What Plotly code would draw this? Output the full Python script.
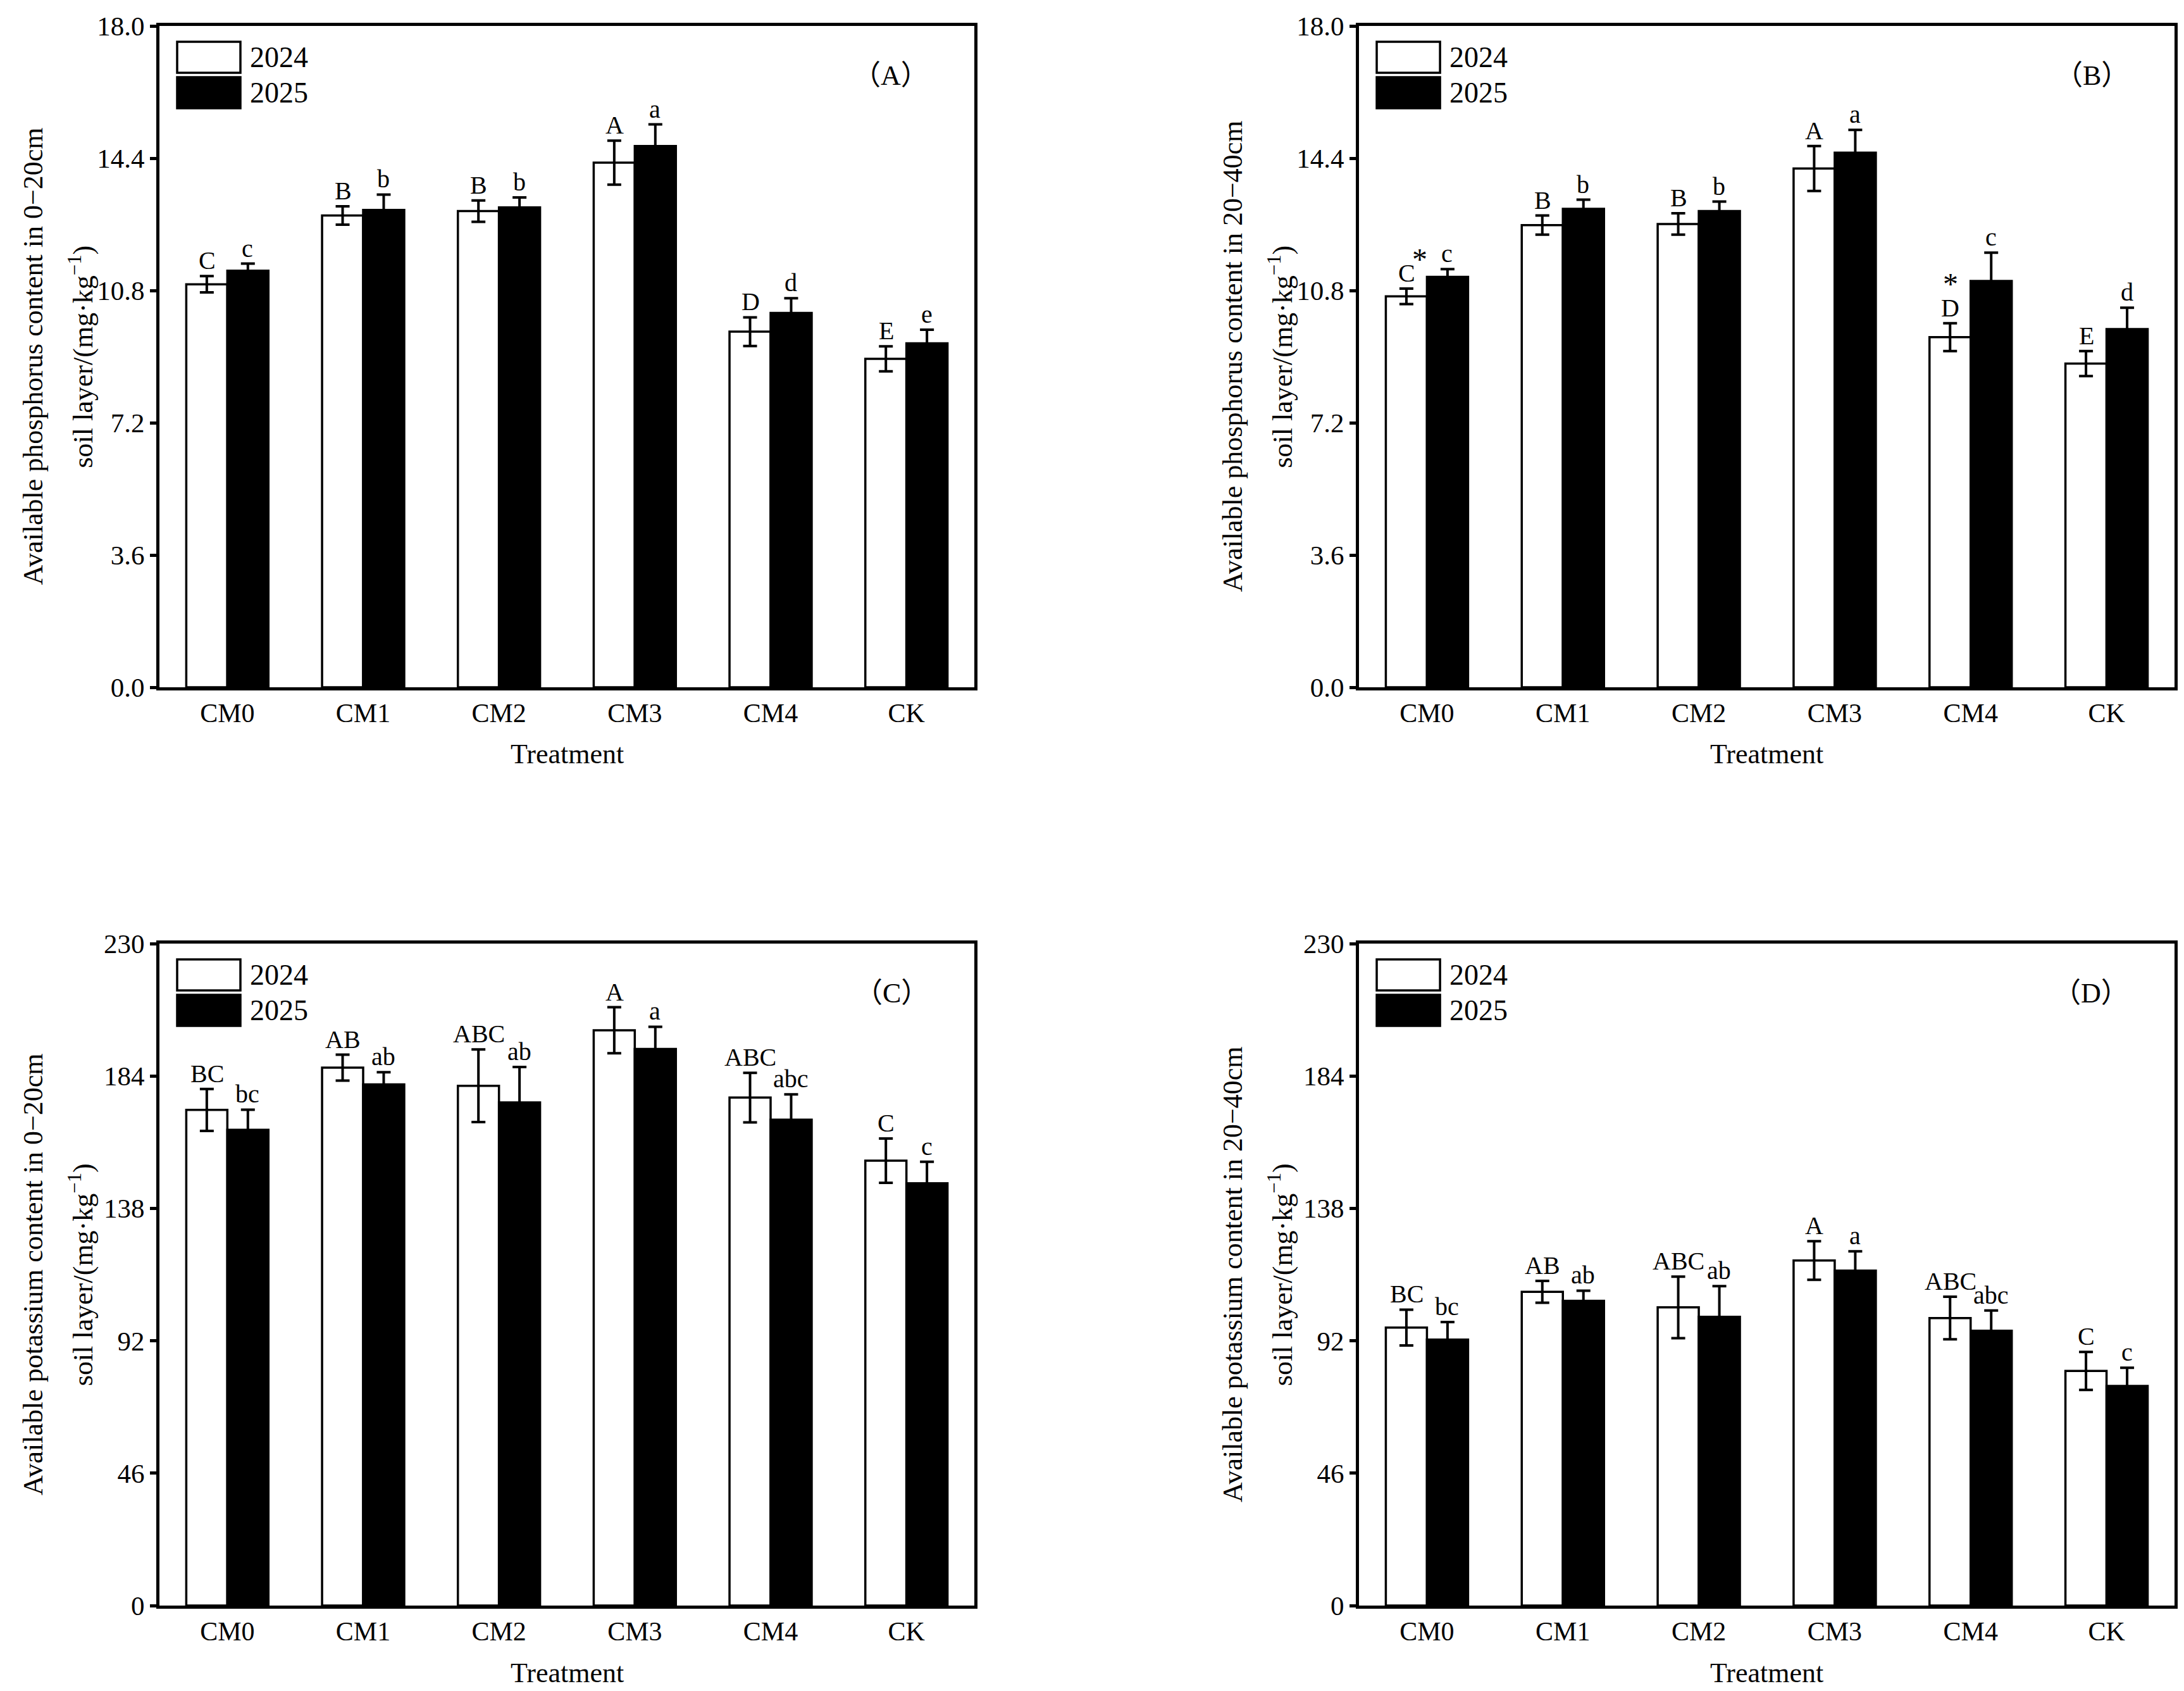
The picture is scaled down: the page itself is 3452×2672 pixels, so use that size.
import plotly.graph_objects as go
from plotly.subplots import make_subplots

treatments = ["CM0", "CM1", "CM2", "CM3", "CM4", "CK"]

# available phosphorus, 0-20cm
ap1_2024 = [10.97, 12.84, 12.96, 14.28, 9.68, 8.94]
ap1_2024_err = [0.22, 0.25, 0.29, 0.60, 0.39, 0.34]
ap1_2025 = [11.34, 12.99, 13.06, 14.73, 10.19, 9.36]
ap1_2025_err = [0.19, 0.42, 0.27, 0.59, 0.40, 0.37]
ap1_let_2024 = ["C", "B", "B", "A", "D", "E"]
ap1_let_2025 = ["c", "b", "b", "a", "d", "e"]

# available phosphorus, 20-40cm
ap2_2024 = [10.64, 12.58, 12.61, 14.12, 9.53, 8.81]
ap2_2024_err = [0.21, 0.26, 0.29, 0.61, 0.38, 0.34]
ap2_2025 = [11.17, 13.02, 12.96, 14.55, 11.06, 9.75]
ap2_2025_err = [0.21, 0.25, 0.26, 0.62, 0.77, 0.58]
ap2_let_2024 = ["C", "B", "B", "A", "D", "E"]
ap2_let_2025 = ["c", "b", "b", "a", "c", "d"]

# available potassium, 0-20cm
ak1_2024 = [172.2, 186.9, 180.6, 199.9, 176.5, 154.6]
ak1_2024_err = [7.3, 4.5, 12.6, 8.0, 8.6, 7.7]
ak1_2025 = [165.3, 181.1, 174.8, 193.4, 168.8, 146.7]
ak1_2025_err = [7.0, 4.2, 12.3, 7.7, 8.8, 7.5]
ak1_let_2024 = ["BC", "AB", "ABC", "A", "ABC", "C"]
ak1_let_2025 = ["bc", "ab", "ab", "a", "abc", "c"]

# available potassium, 20-40cm
ak2_2024 = [96.6, 109.0, 103.6, 119.9, 99.9, 81.5]
ak2_2024_err = [6.2, 3.8, 10.7, 6.7, 7.4, 6.6]
ak2_2025 = [92.4, 105.9, 100.3, 116.4, 95.5, 76.3]
ak2_2025_err = [6.1, 3.5, 10.7, 6.7, 7.0, 6.3]
ak2_let_2024 = ["BC", "AB", "ABC", "A", "ABC", "C"]
ak2_let_2025 = ["bc", "ab", "ab", "a", "abc", "c"]

p_ticks = [0, 3.6, 7.2, 10.8, 14.4, 18.0]
k_ticks = [0, 46, 92, 138, 184, 230]

panels = [
    dict(y24=ap1_2024, e24=ap1_2024_err, y25=ap1_2025, e25=ap1_2025_err, l24=ap1_let_2024, l25=ap1_let_2025,
         ticks=p_ticks, fmt=".1f", tag="（A）", t1="Available phosphorus content in 0−20cm"),
    dict(y24=ap2_2024, e24=ap2_2024_err, y25=ap2_2025, e25=ap2_2025_err, l24=ap2_let_2024, l25=ap2_let_2025,
         ticks=p_ticks, fmt=".1f", tag="（B）", t1="Available phosphorus content in 20−40cm"),
    dict(y24=ak1_2024, e24=ak1_2024_err, y25=ak1_2025, e25=ak1_2025_err, l24=ak1_let_2024, l25=ak1_let_2025,
         ticks=k_ticks, fmt="d", tag="（C）", t1="Available potassium content in 0−20cm"),
    dict(y24=ak2_2024, e24=ak2_2024_err, y25=ak2_2025, e25=ak2_2025_err, l24=ak2_let_2024, l25=ak2_let_2025,
         ticks=k_ticks, fmt="d", tag="（D）", t1="Available potassium content in 20−40cm"),
]

W, H = 3452, 2672
FONT = "Liberation Serif, Times New Roman, Noto Sans CJK SC, serif"
xdoms = [[244 / W, 1532 / W], [2140 / W, 3429 / W]]
ydoms = [[1 - 1078 / H, 1 - 33 / H], [1 - 2529 / H, 1 - 1483 / H]]
AW, AH = 1288, 1045  # axis box size in px

fig = make_subplots(rows=2, cols=2)

for n, p in enumerate(panels):
    row, col = n // 2 + 1, n % 2 + 1
    s = "" if n == 0 else str(n + 1)
    fig.add_trace(go.Bar(x=treatments, y=p["y24"], name="2024", showlegend=False,
                         marker=dict(color="white", line=dict(color="black", width=3.5)),
                         error_y=dict(type="data", array=p["e24"], color="black", thickness=4, width=11)),
                  row=row, col=col)
    fig.add_trace(go.Bar(x=treatments, y=p["y25"], name="2025", showlegend=False,
                         marker=dict(color="black", line=dict(color="black", width=3.5)),
                         error_y=dict(type="data", array=p["e25"], color="black", thickness=4, width=11)),
                  row=row, col=col)

    fig.layout["xaxis" + s].update(domain=xdoms[col - 1], automargin=False, showline=True, linewidth=5,
                                   linecolor="black", mirror=True, ticks="", showgrid=False, ticklabelstandoff=0,
                                   tickfont=dict(size=42, family=FONT, color="black"))
    fig.layout["yaxis" + s].update(domain=ydoms[row - 1], automargin=False, range=[0, p["ticks"][-1]],
                                   tickvals=p["ticks"], tickformat=p["fmt"], showline=True, linewidth=5,
                                   linecolor="black", mirror=True, ticks="outside", ticklen=10, tickwidth=5,
                                   tickcolor="black", showgrid=False, zeroline=False, ticklabelstandoff=0,
                                   tickfont=dict(size=43, family=FONT, color="black"))

    # significance letters
    for t, v, e, lab in zip(treatments, p["y24"], p["e24"], p["l24"]):
        fig.add_annotation(x=t, y=v + e, xref="x" + s, yref="y" + s, text=lab, showarrow=False,
                           yanchor="bottom", xshift=-32, yshift=0, font=dict(size=40, family=FONT, color="black"))
    for t, v, e, lab in zip(treatments, p["y25"], p["e25"], p["l25"]):
        fig.add_annotation(x=t, y=v + e, xref="x" + s, yref="y" + s, text=lab, showarrow=False,
                           yanchor="bottom", xshift=32, yshift=0, font=dict(size=40, family=FONT, color="black"))

    # legend boxes drawn by hand
    for k, (fill, label) in enumerate([("white", "2024"), ("black", "2025")]):
        top = 25 + k * 56
        fig.add_shape(type="rect", xref="x" + s + " domain", yref="y" + s + " domain",
                      x0=28 / AW, x1=128 / AW, y0=1 - (top + 49) / AH, y1=1 - top / AH,
                      fillcolor=fill, line=dict(color="black", width=3.5))
        fig.add_annotation(xref="x" + s + " domain", yref="y" + s + " domain", x=141 / AW,
                           y=1 - (top + 24.5) / AH, text=label, showarrow=False, xanchor="left",
                           yanchor="middle", font=dict(size=46, family=FONT, color="black"))

    fig.add_annotation(xref="x" + s + " domain", yref="y" + s + " domain", x=1 - 70 / AW, y=1 - 52 / AH,
                       text=p["tag"], showarrow=False, font=dict(size=44, family=FONT, color="black"))

    # axis titles
    fig.add_annotation(xref="x" + s + " domain", yref="y" + s + " domain", x=0.5, y=0, yshift=-106,
                       text="Treatment", showarrow=False, yanchor="middle",
                       font=dict(size=44, family=FONT, color="black"))
    fig.add_annotation(xref="x" + s + " domain", yref="y" + s + " domain", x=0, xshift=-200, y=0.5,
                       text=p["t1"], textangle=-90, showarrow=False, xanchor="center", yanchor="middle",
                       font=dict(size=44, family=FONT, color="black"))
    fig.add_annotation(xref="x" + s + " domain", yref="y" + s + " domain", x=0, xshift=-124, y=0.5,
                       text="soil layer/(mg·kg<sup>−1</sup>)", textangle=-90, showarrow=False,
                       xanchor="center", yanchor="middle", font=dict(size=44, family=FONT, color="black"))

# asterisks in panel B
fig.add_annotation(x="CM0", y=ap2_2024[0] + ap2_2024_err[0], xref="x2", yref="y2", text="*", showarrow=False,
                   yanchor="bottom", xshift=-11, yshift=18, font=dict(size=48, family=FONT, color="black"))
fig.add_annotation(x="CM4", y=ap2_2024[4] + ap2_2024_err[4], xref="x2", yref="y2", text="*", showarrow=False,
                   yanchor="bottom", xshift=-32, yshift=34, font=dict(size=48, family=FONT, color="black"))

fig.update_layout(width=W, height=H, margin=dict(l=0, r=0, t=0, b=0, autoexpand=False),
                  barmode="group", bargap=0.395, bargroupgap=0,
                  paper_bgcolor="white", plot_bgcolor="white",
                  font=dict(family=FONT, color="black"))

fig.write_html("out.html")
